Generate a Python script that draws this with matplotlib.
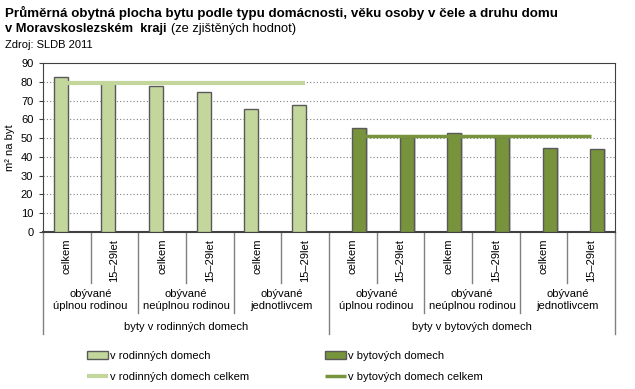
import matplotlib.pyplot as plt
import matplotlib.transforms as mtransforms
import numpy as np

plt.rcParams['font.family'] = ['Liberation Sans', 'DejaVu Sans']

# data
age_labels = ['celkem', '15\u201329let'] * 6
hh_labels = ['obývané\núplnou rodinou', 'obývané\nneúplnou rodinou', 'obývané\njednotlivcem'] * 2
house_labels = ['byty v rodinných domech', 'byty v bytových domech']
rodinne = [82.5, 79.5, 77.7, 74.5, 65.3, 67.4]
bytove = [55.2, 50.8, 52.5, 50.8, 44.6, 44.0]
rodinne_celkem = 79.3
bytove_celkem = 51.0

light = '#C3D69B'
dark = '#77933C'
edge = '#595959'

W, H = 635, 389
fig = plt.figure(figsize=(W / 100, H / 100), dpi=100)
ax_l, ax_r, ax_t, ax_b = 43, 615, 63, 232
ax = fig.add_axes([ax_l / W, 1 - ax_b / H, (ax_r - ax_l) / W, (ax_b - ax_t) / H])

x = np.arange(12)
off, bw = 0.13, 0.29
b1 = ax.bar(x[:6] - off, rodinne, width=bw, color=light, edgecolor=edge, linewidth=1, zorder=3)
b2 = ax.bar(x[6:] + off, bytove, width=bw, color=dark, edgecolor=edge, linewidth=1, zorder=3)
# light shadow behind dark bars
ax.bar(x[6:] + off + 0.04, bytove, width=bw, color='#d0d0d0', linewidth=0, zorder=2)
l1, = ax.plot(x[:6], [rodinne_celkem] * 6, color=light, lw=3, zorder=4, solid_capstyle='butt')
l2, = ax.plot(x[6:], [bytove_celkem] * 6, color=dark, lw=2.5, zorder=4, solid_capstyle='butt')

ax.set_xlim(-0.5, 11.5)
ax.set_ylim(0, 90)
ax.set_yticks(range(0, 91, 10))
ax.tick_params(axis='y', labelsize=8, length=3, color='#404040', pad=4)
ax.set_xticks([])
for yv in range(10, 90, 10):
    ax.axhline(yv, color='#808080', lw=0.8, ls=(0, (1, 2)), zorder=1)
for s in ax.spines.values():
    s.set_color('#404040')
ax.spines['bottom'].set_linewidth(1.5)
ax.set_ylabel('m² na byt', fontsize=8, labelpad=4)

# multi-level category axis
trans = mtransforms.blended_transform_factory(ax.transData, ax.transAxes)


def ay(py):
    return (ax_b - py) / (ax_b - ax_t)


sep_col = '#808080'
for xs in [0.5, 2.5, 4.5, 6.5, 8.5, 10.5]:
    ax.plot([xs, xs], [0, ay(283)], transform=trans, color=sep_col, lw=1, clip_on=False)
for xs in [1.5, 3.5, 7.5, 9.5]:
    ax.plot([xs, xs], [0, ay(313)], transform=trans, color=sep_col, lw=1, clip_on=False)
for xs in [-0.5, 5.5, 11.5]:
    ax.plot([xs, xs], [0, ay(334)], transform=trans, color=sep_col, lw=1, clip_on=False)

for i, lab in enumerate(age_labels):
    ax.text(i, ay(239), lab, transform=trans, rotation=90, ha='center', va='top', fontsize=8)
for j, lab in enumerate(hh_labels):
    ax.text(2 * j + 0.5, ay(300), lab, transform=trans, ha='center', va='center',
            fontsize=8, linespacing=1.2)
for k, lab in enumerate(house_labels):
    ax.text(6 * k + 2.5, ay(327), lab, transform=trans, ha='center', va='center', fontsize=8)

# titles
fig.text(5 / W, 1 - 13 / H, 'Průměrná obytná plocha bytu podle typu domácnosti, věku osoby v čele a druhu domu',
         fontsize=9.6, fontweight='bold', va='center')
fig.text(5 / W, 1 - 29 / H, 'v Moravskoslezském  kraji', fontsize=9.3, fontweight='bold', va='center')
fig.text(171 / W, 1 - 29 / H, '(ze zjištěných hodnot)', fontsize=9.3, va='center')
fig.text(5 / W, 1 - 45 / H, 'Zdroj: SLDB 2011', fontsize=8, va='center')

fig.legend([b1, l1, b2, l2],
           ['v rodinných domech', 'v rodinných domech celkem', 'v bytových domech', 'v bytových domech celkem'],
           ncol=2, loc='upper left', bbox_to_anchor=(87 / W, 1 - 351 / H), frameon=False,
           fontsize=8, handlelength=1.9, handletextpad=0.2, columnspacing=6.8,
           labelspacing=1.0, borderpad=0, borderaxespad=0)

fig.savefig('out.png', dpi=100)
